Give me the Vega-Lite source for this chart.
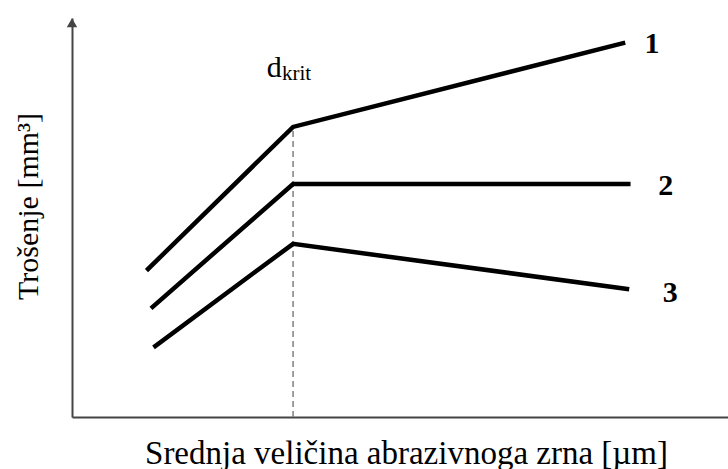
{
  "$schema": "https://vega.github.io/schema/vega-lite/v6.json",
  "width": 656,
  "height": 399,
  "autosize": "none",
  "padding": {"left": 72, "top": 18, "right": 0, "bottom": 52},
  "background": "white",
  "config": {"view": {"stroke": null}},
  "datasets": {
    "lines": [
      {"series": "1", "step": 1, "x": 11.6, "y": 37.1},
      {"series": "1", "step": 2, "x": 33.7, "y": 72.7},
      {"series": "1", "step": 3, "x": 84.0, "y": 93.7},
      {"series": "2", "step": 1, "x": 12.3, "y": 27.6},
      {"series": "2", "step": 2, "x": 33.7, "y": 58.4},
      {"series": "2", "step": 3, "x": 84.8, "y": 58.4},
      {"series": "3", "step": 1, "x": 12.7, "y": 17.8},
      {"series": "3", "step": 2, "x": 33.7, "y": 43.4},
      {"series": "3", "step": 3, "x": 84.6, "y": 32.1}
    ],
    "dkrit": [{"x": 33.7, "y0": 0, "y1": 72.7}],
    "labels": [
      {"label": "1", "x": 88.4, "y": 93.5},
      {"label": "2", "x": 90.5, "y": 57.9},
      {"label": "3", "x": 91.2, "y": 31.1}
    ],
    "dtext": [
      {"t": "d", "x": 29.7, "y": 85.2, "size": 30},
      {"t": "krit", "x": 32.0, "y": 84.5, "size": 21}
    ],
    "arrow": [{"x": 0, "y": 98.8}]
  },
  "layer": [
    {
      "data": {"name": "dkrit"},
      "mark": {"type": "rule", "color": "#808080", "strokeWidth": 1.5, "strokeDash": [6, 4]},
      "encoding": {
        "x": {"field": "x", "type": "quantitative", "scale": {"domain": [0, 100]},
          "axis": {"title": "Srednja veličina abrazivnoga zrna [µm]", "labels": false, "ticks": false, "grid": false,
            "domainColor": "#444", "domainWidth": 2,
            "titleFont": "Liberation Serif, Times New Roman, serif", "titleFontSize": 33, "titleFontWeight": "normal", "titleColor": "black",
            "titleX": 334, "titleY": 46, "titleBaseline": "alphabetic"}},
        "y": {"field": "y0", "type": "quantitative", "scale": {"domain": [0, 100]},
          "axis": {"title": "Trošenje [mm³]", "labels": false, "ticks": false, "grid": false,
            "domainColor": "#444", "domainWidth": 2,
            "titleFont": "Liberation Serif, Times New Roman, serif", "titleFontSize": 30, "titleFontWeight": "normal", "titleColor": "black",
            "titleX": -35, "titleY": 188, "titleBaseline": "alphabetic"}},
        "y2": {"field": "y1"}
      }
    },
    {
      "data": {"name": "lines"},
      "mark": {"type": "line", "color": "black", "strokeWidth": 4.5, "strokeCap": "square", "strokeJoin": "miter"},
      "encoding": {
        "x": {"field": "x", "type": "quantitative"},
        "y": {"field": "y", "type": "quantitative"},
        "detail": {"field": "series"},
        "order": {"field": "step"}
      }
    },
    {
      "data": {"name": "arrow"},
      "mark": {"type": "point", "shape": "triangle-up", "filled": true, "color": "#444", "size": 110, "opacity": 1},
      "encoding": {
        "x": {"field": "x", "type": "quantitative"},
        "y": {"field": "y", "type": "quantitative"}
      }
    },
    {
      "data": {"name": "labels"},
      "mark": {"type": "text", "font": "Liberation Serif, Times New Roman, serif", "fontSize": 30, "fontWeight": "bold", "color": "black", "align": "center", "baseline": "middle"},
      "encoding": {
        "x": {"field": "x", "type": "quantitative"},
        "y": {"field": "y", "type": "quantitative"},
        "text": {"field": "label"}
      }
    },
    {
      "data": {"name": "dtext"},
      "mark": {"type": "text", "font": "Liberation Serif, Times New Roman, serif", "color": "black", "align": "left", "baseline": "alphabetic"},
      "encoding": {
        "x": {"field": "x", "type": "quantitative"},
        "y": {"field": "y", "type": "quantitative"},
        "text": {"field": "t"},
        "size": {"field": "size", "type": "quantitative", "scale": null}
      }
    }
  ]
}
